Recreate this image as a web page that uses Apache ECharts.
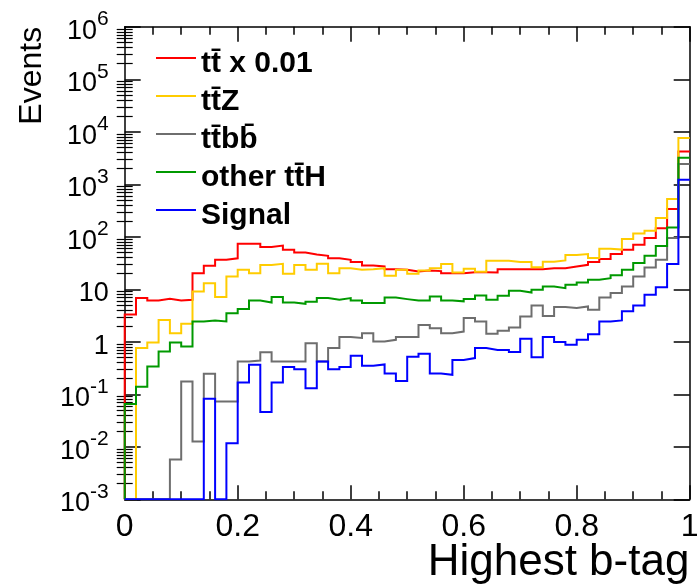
<!DOCTYPE html>
<html>
<head>
<meta charset="utf-8">
<script src="https://cdn.jsdelivr.net/npm/echarts@6/dist/echarts.min.js"></script>
<style>
  html, body { margin: 0; padding: 0; background: #fff; }
  #chart { width: 700px; height: 588px; }
</style>
</head>
<body>
<div id="chart"></div>
<script>
// ---- Data (50 bins of width 0.02 on "Highest b-tag"; 0 = empty bin) ----
const binWidth = 0.02;
const seriesNames = ['tt\u0304 x 0.01', 'tt\u0304Z', 'tt\u0304bb\u0304', 'other tt\u0304H', 'Signal'];
const seriesColors = ['#ff0000', '#ffcc00', '#6e6e6e', '#009900', '#0000ff'];

const ttbarScaled = [3.3, 6.8, 6.1, 6.6, 6.1, 6.3, 20.3, 28, 36.5, 39,
  73.6, 73.6, 63.7, 68, 56.5, 50, 46, 43.5, 39, 36.5,
  33, 28.4, 27.2, 24.2, 23.5, 21.8, 22.8, 22.2, 20.3, 20.3,
  21.2, 21.2, 21.0, 24.2, 24.2, 24.2, 24.2, 25.3, 25.3, 27.2,
  29.3, 33, 37.6, 46.8, 56.5, 70.4, 94.5, 146, 337, 4220];

const ttZ = [0, 0.76, 0.97, 2.6, 1.46, 2.2, 9.1, 13.1, 7.1, 17.5,
  23.5, 20.3, 29, 30.6, 19.7, 29, 23.5, 30.6, 20.3, 25.3,
  23.5, 24, 25.3, 18.1, 23.5, 19.7, 22.8, 25.3, 30.2, 20.9,
  24.5, 21.5, 35, 35, 33, 33, 26.3, 33.5, 35.4, 45,
  47, 39.3, 59, 57, 91, 116, 130, 227, 525, 7590];

const ttbb = [0, 0, 0, 0, 0.0057, 0.175, 0.0126, 0.246, 0.073, 0.073,
  0.42, 0.44, 0.63, 0.42, 0.42, 0.42, 0.94, 0.42, 0.76, 1.23,
  1.18, 1.46, 1.01, 1.09, 1.23, 1.23, 2.1, 1.82, 1.46, 1.57,
  2.83, 2.44, 1.43, 1.62, 1.87, 3.03, 4.9, 3.1, 4.6, 4.4,
  4.7, 4.07, 7.0, 8.5, 11.3, 17.5, 26, 36.5, 94.5, 2430];

const otherTtH = [0.065, 0.14, 0.34, 0.65, 0.97, 0.81, 2.44, 2.55, 2.44, 3.5,
  4.2, 6.1, 5.6, 7.1, 5.6, 5.3, 5.8, 6.8, 6.3, 6.8,
  6.1, 5.5, 5.5, 7.0, 6.5, 6.1, 6.1, 7.3, 6.1, 5.9,
  6.5, 7.6, 6.3, 7.5, 9.4, 8.7, 9.8, 11.3, 10.5, 12.2,
  13.5, 15.2, 16.3, 18.6, 23.5, 31.6, 43.5, 67, 150, 3200];

const signal = [0, 0, 0, 0, 0, 0, 0, 0.082, 0, 0.0117,
  0.168, 0.365, 0.046, 0.168, 0.33, 0.30, 0.13, 0.42, 0.30, 0.33,
  0.54, 0.35, 0.37, 0.25, 0.18, 0.52, 0.59, 0.25, 0.235, 0.45,
  0.49, 0.76, 0.70, 0.70, 0.636, 1.14, 0.51, 1.23, 0.99, 0.88,
  1.09, 1.4, 2.44, 2.55, 3.8, 4.9, 7.9, 11, 30.2, 1218];

const xTickLabels = ['0', '0.2', '0.4', '0.6', '0.8', '1'];
const yMin = 1e-3, yMax = 1e6;
const decades = [-3, -2, -1, 0, 1, 2, 3, 4, 5, 6];

// ---- Build ----
const allValues = [ttbarScaled, ttZ, ttbb, otherTtH, signal];

function histSteps(vals) {
  const pts = [[0, yMin]];
  vals.forEach((v, i) => pts.push([+(i * binWidth).toFixed(4), v > 0 ? v : yMin]));
  pts.push([1, pts[pts.length - 1][1]]);
  return pts;
}

const minorLog = [];
for (let e = -3; e < 6; e++) {
  for (let k = 2; k <= 9; k++) minorLog.push(e + Math.log10(k));
}

const FONT = '"Liberation Sans", Arial, Helvetica, sans-serif';
const black = '#000';

const chart = echarts.init(document.getElementById('chart'), null, { renderer: 'canvas' });

const option = {
  animation: false,
  backgroundColor: '#fff',
  textStyle: { fontFamily: FONT, color: black },
  grid: { left: 124.7, right: 10.3, top: 26.8, bottom: 88.7, containLabel: false, outerBoundsMode: 'none' },
  legend: {
    orient: 'vertical',
    left: 156, top: 37,
    padding: 0,
    itemGap: -4,
    itemWidth: 40, itemHeight: 2,
    icon: 'rect',
    data: seriesNames,
    formatter: name => '{a|' + name + '}',
    textStyle: {
      fontFamily: FONT, fontWeight: 'bold', fontSize: 30, color: black,
      rich: { a: { fontFamily: FONT, fontWeight: 'bold', fontSize: 30, lineHeight: 30, color: black, padding: [12, 0, 0, 0] } }
    }
  },
  xAxis: [
    {
      type: 'value', position: 'bottom', min: 0, max: 1, interval: 0.2,
      axisLine: { show: true, onZero: false, lineStyle: { color: black, width: 1.5 } },
      axisTick: { show: true, inside: true, length: 14, lineStyle: { color: black, width: 1.5 } },
      minorTick: { show: true, splitNumber: 4, length: 8, lineStyle: { color: black, width: 1.5 } },
      splitLine: { show: false }, minorSplitLine: { show: false },
      axisLabel: {
        show: true, margin: 12, fontSize: 32, color: black, fontFamily: FONT,
        formatter: v => xTickLabels[Math.round(v / 0.2)]
      },
      name: 'Highest b-tag', nameLocation: 'end', nameGap: -262, nameMoveOverlap: false,
      nameTextStyle: { fontSize: 44, color: black, fontFamily: FONT, align: 'left', verticalAlign: 'top', padding: [42, 0, 0, 0] }
    },
    {
      type: 'value', position: 'top', min: 0, max: 1, interval: 0.2,
      axisLine: { show: true, onZero: false, lineStyle: { color: black, width: 1.5 } },
      axisTick: { show: true, inside: true, length: 15, lineStyle: { color: black, width: 1.5 } },
      minorTick: { show: true, splitNumber: 4, length: 8, lineStyle: { color: black, width: 1.5 } },
      splitLine: { show: false }, axisLabel: { show: false }
    }
  ],
  yAxis: [
    {
      type: 'log', logBase: 10, min: yMin, max: yMax, splitNumber: 9, position: 'left',
      axisLine: { show: true, onZero: false, lineStyle: { color: black, width: 1.5 } },
      axisTick: { show: true, inside: true, length: 16, lineStyle: { color: black, width: 1.5 } },
      splitLine: { show: false },
      axisLabel: {
        show: true, margin: 16, color: black, fontFamily: FONT,
        formatter: v => {
          const e = Math.round(Math.log10(v));
          if (e === 0) return '{b|1}';
          if (e === 1) return '{b|10}';
          return '{b|10}{s|' + e + '}';
        },
        rich: {
          b: { fontSize: 27, lineHeight: 27, padding: [9, 0, 0, 0], color: black, fontFamily: FONT },
          s: { fontSize: 21, lineHeight: 21, padding: [0, 0, 15, 0], color: black, fontFamily: FONT }
        }
      },
      name: 'Events', nameLocation: 'end', nameGap: 0, nameRotate: 90, nameMoveOverlap: false,
      nameTextStyle: { fontSize: 32, color: black, fontFamily: FONT, align: 'right', verticalAlign: 'bottom', padding: [0, 0, 77, 0] }
    },
    {
      type: 'value', min: -3, max: 6, position: 'left',
      axisLine: { show: false }, splitLine: { show: false }, axisLabel: { show: false },
      axisTick: { show: true, inside: true, length: 8, customValues: minorLog, lineStyle: { color: black, width: 1.2 } }
    },
    {
      type: 'value', min: -3, max: 6, interval: 1, position: 'right',
      axisLine: { show: true, onZero: false, lineStyle: { color: black, width: 1.5 } },
      splitLine: { show: false }, axisLabel: { show: false },
      axisTick: { show: true, inside: true, length: 16, customValues: decades, lineStyle: { color: black, width: 1.5 } }
    },
    {
      type: 'value', min: -3, max: 6, position: 'right',
      axisLine: { show: false }, splitLine: { show: false }, axisLabel: { show: false },
      axisTick: { show: true, inside: true, length: 8, customValues: minorLog, lineStyle: { color: black, width: 1.2 } }
    }
  ],
  series: allValues.map((vals, i) => ({
    name: seriesNames[i],
    type: 'line',
    xAxisIndex: 0, yAxisIndex: 0,
    step: 'end',
    showSymbol: false, symbol: 'none',
    clip: true,
    color: seriesColors[i],
    lineStyle: { color: seriesColors[i], width: 2, join: 'miter' },
    z: 2 + i,
    data: histSteps(vals)
  }))
};

chart.setOption(option);
</script>
</body>
</html>
